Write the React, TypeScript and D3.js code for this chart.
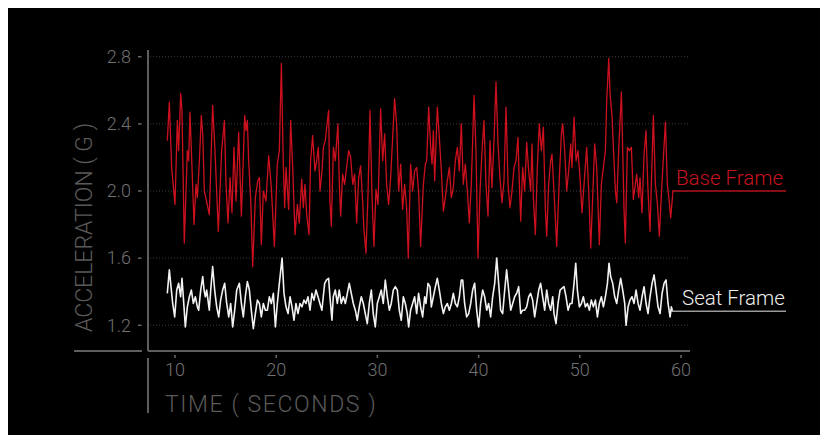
import React, { useEffect, useRef } from 'react';
import * as d3 from 'd3';

// Base frame (red), time in seconds / acceleration in G
const baseTime = [
  9.24, 9.44, 9.67, 10.0, 10.23, 10.36, 10.56, 10.69, 10.92, 11.22, 11.35, 11.48, 11.68, 11.88, 12.08, 12.21,
  12.41, 12.6, 12.74, 12.9, 13.39, 13.72, 13.95, 14.28, 14.61, 14.88, 15.04, 15.24, 15.44, 15.63, 15.83, 16.03,
  16.29, 16.56, 16.89, 17.02, 17.15, 17.28, 17.48, 17.68, 17.94, 18.17, 18.34, 18.53, 18.73, 18.99, 19.26, 19.52,
  19.82, 20.11, 20.31, 20.51, 20.71, 20.84, 20.97, 21.23, 21.43, 21.63, 21.86, 22.09, 22.28, 22.52, 22.68, 22.84,
  23.01, 23.24, 23.4, 23.6, 23.83, 24.0, 24.16, 24.33, 24.53, 24.66, 24.85, 24.99, 25.18, 25.31, 25.45, 25.65,
  25.84, 26.1, 26.24, 26.37, 26.56, 26.76, 26.96, 27.16, 27.36, 27.56, 27.75, 27.95, 28.15, 28.34, 28.54, 28.67,
  28.87, 29.07, 29.27, 29.46, 29.66, 29.86, 30.06, 30.32, 30.52, 30.72, 30.91, 31.11, 31.31, 31.7, 31.9, 32.1,
  32.3, 32.49, 32.69, 32.89, 33.05, 33.28, 33.48, 33.68, 33.88, 34.07, 34.27, 34.54, 34.74, 34.87, 35.07, 35.26,
  35.4, 35.53, 35.66, 35.92, 36.12, 36.32, 36.52, 36.71, 36.91, 37.11, 37.31, 37.5, 37.7, 37.9, 38.1, 38.29,
  38.49, 38.69, 38.89, 39.08, 39.28, 39.55, 39.74, 39.94, 40.14, 40.34, 40.53, 40.73, 40.93, 41.13, 41.32, 41.52,
  41.72, 41.92, 42.11, 42.31, 42.51, 42.71, 42.91, 43.1, 43.3, 43.5, 43.7, 43.89, 44.03, 44.16, 44.35, 44.55,
  44.75, 44.95, 45.14, 45.28, 45.41, 45.61, 45.8, 46.0, 46.2, 46.4, 46.59, 46.73, 46.92, 47.12, 47.25, 47.45,
  47.72, 47.98, 48.18, 48.31, 48.51, 48.7, 48.9, 49.1, 49.23, 49.43, 49.63, 49.82, 50.02, 50.22, 50.42, 50.68,
  50.88, 51.08, 51.27, 51.47, 51.67, 51.93, 52.13, 52.33, 52.53, 52.66, 52.86, 52.99, 53.19, 53.32, 53.52, 53.65,
  53.84, 54.11, 54.24, 54.37, 54.5, 54.7, 54.9, 55.1, 55.29, 55.49, 55.62, 55.82, 55.95, 56.15, 56.35, 56.54,
  56.74, 56.94, 57.07, 57.27, 57.47, 57.66, 57.86, 58.06, 58.26, 58.46, 58.65, 58.85, 58.98, 59.18,
];
const baseValue = [
  2.3, 2.53, 2.14, 1.92, 2.42, 2.24, 2.58, 2.48, 1.69, 2.24, 2.18, 2.47, 2.14, 1.8, 2.04, 1.96,
  2.18, 2.45, 2.34, 2.0, 1.86, 2.51, 2.24, 1.76, 2.24, 2.42, 2.04, 1.81, 2.08, 1.87, 2.26, 1.94,
  2.35, 1.85, 2.45, 2.36, 2.42, 2.18, 1.95, 1.55, 1.96, 2.06, 2.08, 1.68, 2.0, 1.94, 2.21, 2.02,
  1.67, 2.16, 2.24, 2.76, 2.14, 1.9, 2.14, 1.89, 2.42, 2.14, 1.74, 1.92, 1.81, 2.07, 1.9, 2.04,
  1.86, 1.74, 2.18, 2.33, 2.12, 2.18, 2.26, 2.0, 2.12, 2.26, 2.3, 2.38, 2.48, 1.94, 1.79, 2.26,
  2.18, 2.4, 2.04, 1.85, 2.1, 2.04, 2.14, 2.24, 2.2, 2.04, 2.1, 1.81, 2.08, 2.15, 1.94, 1.77,
  1.63, 1.98, 2.48, 1.98, 1.67, 2.01, 1.92, 2.49, 2.18, 2.34, 2.04, 1.92, 2.08, 2.55, 2.4, 2.0,
  2.16, 1.89, 2.04, 1.9, 1.6, 2.16, 2.0, 2.12, 2.14, 2.0, 1.67, 2.04, 2.16, 2.18, 2.5, 2.26,
  2.16, 2.36, 2.06, 2.5, 2.32, 2.12, 1.88, 1.96, 2.06, 2.14, 1.96, 2.02, 2.18, 2.26, 2.12, 2.4,
  2.04, 2.16, 2.0, 1.81, 2.04, 2.57, 2.24, 1.6, 2.0, 2.24, 2.42, 2.04, 1.85, 2.3, 2.02, 2.3,
  2.65, 2.28, 2.08, 1.93, 2.06, 2.5, 2.04, 1.9, 2.0, 2.14, 2.18, 2.32, 2.04, 1.82, 2.14, 2.0,
  2.29, 2.12, 2.0, 2.28, 1.96, 1.74, 2.14, 2.4, 2.24, 2.38, 1.9, 1.73, 2.04, 2.18, 2.22, 2.0,
  1.67, 2.08, 2.34, 2.4, 2.24, 2.0, 2.12, 2.28, 2.14, 2.44, 2.18, 2.24, 2.08, 1.87, 2.04, 2.26,
  2.0, 1.66, 1.96, 2.28, 2.14, 1.68, 2.04, 2.14, 2.24, 2.54, 2.79, 2.58, 2.44, 2.26, 2.0, 1.93,
  2.24, 2.59, 2.24, 1.89, 1.69, 2.26, 2.24, 2.26, 1.95, 2.04, 2.1, 1.96, 2.08, 1.87, 2.22, 2.36,
  2.0, 1.76, 2.04, 2.45, 2.04, 1.93, 1.73, 1.98, 2.2, 2.41, 2.04, 1.93, 1.84, 1.98,
];

// Seat frame (white)
const seatTime = [
  9.24, 9.44, 9.64, 9.77, 9.97, 10.17, 10.36, 10.56, 10.69, 10.89, 11.02, 11.22, 11.42, 11.62, 11.81, 12.01,
  12.21, 12.34, 12.54, 12.74, 12.87, 13.0, 13.13, 13.39, 13.53, 13.72, 13.92, 14.12, 14.32, 14.51, 14.71, 14.91,
  15.11, 15.31, 15.5, 15.7, 15.9, 16.1, 16.36, 16.56, 16.75, 16.95, 17.15, 17.35, 17.54, 17.74, 17.94, 18.14,
  18.34, 18.53, 18.73, 18.93, 19.13, 19.32, 19.52, 19.72, 19.92, 20.11, 20.31, 20.58, 20.77, 20.97, 21.17, 21.37,
  21.56, 21.76, 21.95, 22.15, 22.35, 22.55, 22.74, 22.94, 23.14, 23.34, 23.53, 23.73, 23.93, 24.13, 24.32, 24.52,
  24.65, 24.79, 24.98, 25.18, 25.31, 25.51, 25.64, 25.84, 26.04, 26.23, 26.43, 26.63, 26.83, 27.03, 27.22, 27.42,
  27.62, 27.82, 28.01, 28.21, 28.41, 28.61, 28.8, 29.0, 29.2, 29.4, 29.59, 29.79, 29.99, 30.19, 30.38, 30.58,
  30.78, 30.98, 31.18, 31.37, 31.57, 31.77, 31.97, 32.16, 32.36, 32.56, 32.76, 32.95, 33.09, 33.28, 33.48, 33.68,
  33.88, 34.07, 34.27, 34.47, 34.67, 34.8, 35.0, 35.2, 35.33, 35.53, 35.73, 35.92, 36.12, 36.32, 36.52, 36.71,
  36.91, 37.11, 37.31, 37.5, 37.7, 37.9, 38.1, 38.29, 38.43, 38.62, 38.82, 39.02, 39.22, 39.41, 39.61, 39.81,
  40.01, 40.2, 40.4, 40.6, 40.8, 40.99, 41.19, 41.39, 41.59, 41.79, 41.98, 42.18, 42.38, 42.58, 42.77, 42.97,
  43.17, 43.37, 43.56, 43.76, 43.96, 44.16, 44.35, 44.55, 44.75, 44.95, 45.14, 45.34, 45.54, 45.74, 45.94, 46.13,
  46.33, 46.53, 46.73, 46.92, 47.12, 47.32, 47.45, 47.65, 47.85, 48.05, 48.24, 48.44, 48.64, 48.84, 49.04, 49.23,
  49.43, 49.6, 49.76, 49.96, 50.16, 50.35, 50.55, 50.75, 50.95, 51.14, 51.34, 51.54, 51.74, 51.93, 52.13, 52.33,
  52.53, 52.73, 52.89, 53.05, 53.25, 53.45, 53.65, 53.84, 54.04, 54.24, 54.44, 54.57, 54.77, 54.96, 55.16, 55.36,
  55.56, 55.76, 55.95, 56.15, 56.35, 56.55, 56.74, 56.94, 57.14, 57.34, 57.53, 57.73, 57.93, 58.13, 58.33, 58.52,
  58.72, 58.92, 59.05, 59.18,
];
const seatValue = [
  1.39, 1.53, 1.41, 1.33, 1.25, 1.41, 1.45, 1.37, 1.48, 1.31, 1.19, 1.31, 1.37, 1.41, 1.33, 1.37,
  1.31, 1.29, 1.41, 1.49, 1.41, 1.37, 1.41, 1.29, 1.41, 1.55, 1.41, 1.31, 1.25, 1.35, 1.41, 1.45,
  1.33, 1.25, 1.33, 1.19, 1.29, 1.41, 1.45, 1.33, 1.25, 1.37, 1.46, 1.41, 1.29, 1.18, 1.27, 1.35,
  1.33, 1.25, 1.33, 1.29, 1.29, 1.37, 1.33, 1.39, 1.19, 1.33, 1.45, 1.6, 1.39, 1.31, 1.27, 1.37,
  1.31, 1.23, 1.33, 1.27, 1.33, 1.31, 1.35, 1.33, 1.37, 1.29, 1.39, 1.35, 1.41, 1.37, 1.33, 1.29,
  1.37, 1.45, 1.47, 1.48, 1.37, 1.23, 1.37, 1.41, 1.33, 1.41, 1.33, 1.37, 1.33, 1.39, 1.45, 1.39,
  1.33, 1.29, 1.23, 1.31, 1.37, 1.33, 1.27, 1.21, 1.33, 1.41, 1.27, 1.19, 1.33, 1.37, 1.41, 1.33,
  1.47, 1.37, 1.29, 1.33, 1.41, 1.43, 1.41, 1.29, 1.23, 1.37, 1.33, 1.27, 1.19, 1.29, 1.33, 1.37,
  1.27, 1.39, 1.31, 1.25, 1.37, 1.33, 1.45, 1.43, 1.31, 1.37, 1.43, 1.48, 1.41, 1.33, 1.27, 1.31,
  1.33, 1.29, 1.33, 1.39, 1.33, 1.31, 1.37, 1.47, 1.47, 1.33, 1.25, 1.27, 1.33, 1.41, 1.45, 1.29,
  1.19, 1.33, 1.41, 1.37, 1.29, 1.33, 1.25, 1.37, 1.45, 1.6, 1.45, 1.29, 1.27, 1.41, 1.53, 1.41,
  1.29, 1.33, 1.37, 1.39, 1.43, 1.27, 1.29, 1.29, 1.31, 1.37, 1.39, 1.35, 1.25, 1.33, 1.41, 1.45,
  1.37, 1.29, 1.41, 1.33, 1.29, 1.37, 1.27, 1.21, 1.33, 1.41, 1.42, 1.43, 1.37, 1.29, 1.33, 1.33,
  1.45, 1.57, 1.41, 1.31, 1.33, 1.37, 1.31, 1.33, 1.29, 1.35, 1.31, 1.35, 1.25, 1.33, 1.37, 1.31,
  1.37, 1.45, 1.57, 1.49, 1.45, 1.37, 1.33, 1.41, 1.48, 1.41, 1.33, 1.2, 1.31, 1.35, 1.37, 1.33,
  1.41, 1.33, 1.29, 1.37, 1.43, 1.33, 1.27, 1.37, 1.45, 1.5, 1.41, 1.31, 1.27, 1.39, 1.45, 1.47,
  1.33, 1.25, 1.31, 1.28,
];

const yTicks = [1.2, 1.6, 2.0, 2.4, 2.8];
const xTicks = [10, 20, 30, 40, 50, 60];
const baseLabel = 'Base Frame';
const seatLabel = 'Seat Frame';
const baseLevel = 2.0; // where the label leader sits
const seatLevel = 1.283;

const FONT = "Roboto, 'Liberation Sans', Arial, sans-serif";

const App = () => {
  const svgRef = useRef(null);

  useEffect(() => {
    const W = 812;
    const H = 427;
    const svg = d3.select(svgRef.current);
    svg.selectAll('*').remove();
    svg.attr('width', W).attr('height', H).style('display', 'block');

    svg.append('rect').attr('width', W).attr('height', H).attr('fill', '#000');

    // scales
    const x = d3.scaleLinear().domain([10, 60]).range([167, 673]);
    const y = d3.scaleLinear().domain([1.2, 2.8]).range([317.3, 48.7]);

    const axisX = 140;
    const axisY = 343;
    const plotRight = 682;

    // grid lines
    svg
      .append('g')
      .selectAll('line')
      .data(yTicks)
      .enter()
      .append('line')
      .attr('x1', axisX + 2)
      .attr('x2', plotRight)
      .attr('y1', (d) => y(d))
      .attr('y2', (d) => y(d))
      .attr('stroke', '#3c3c3c')
      .attr('stroke-width', 1)
      .attr('stroke-dasharray', '1,2');

    // axis lines
    const axisColor = '#5e5e5e';
    svg.append('line').attr('x1', axisX).attr('x2', axisX).attr('y1', 42).attr('y2', axisY)
      .attr('stroke', axisColor).attr('stroke-width', 2);
    svg.append('line').attr('x1', axisX).attr('x2', plotRight).attr('y1', axisY).attr('y2', axisY)
      .attr('stroke', axisColor).attr('stroke-width', 2);
    svg.append('line').attr('x1', 66).attr('x2', 134).attr('y1', axisY).attr('y2', axisY)
      .attr('stroke', axisColor).attr('stroke-width', 2);
    svg.append('line').attr('x1', axisX).attr('x2', axisX).attr('y1', 350).attr('y2', 405)
      .attr('stroke', axisColor).attr('stroke-width', 2);

    // y ticks
    const yt = svg.append('g').selectAll('g').data(yTicks).enter().append('g')
      .attr('transform', (d) => `translate(0,${y(d)})`);
    yt.append('line').attr('x1', 130).attr('x2', 133.5).attr('stroke', '#6a6a6a').attr('stroke-width', 1.5);
    yt.append('text')
      .attr('x', 123)
      .attr('dy', '0.35em')
      .attr('text-anchor', 'end')
      .attr('fill', '#727272')
      .attr('font-family', FONT)
      .attr('font-weight', 300)
      .attr('font-size', 18)
      .text((d) => d3.format('.1f')(d));

    // x ticks
    const xt = svg.append('g').selectAll('g').data(xTicks).enter().append('g')
      .attr('transform', (d) => `translate(${x(d)},0)`);
    xt.append('line').attr('y1', 347).attr('y2', 350).attr('stroke', '#6a6a6a').attr('stroke-width', 1.5);
    xt.append('text')
      .attr('y', 368)
      .attr('text-anchor', 'middle')
      .attr('fill', '#727272')
      .attr('font-family', FONT)
      .attr('font-weight', 300)
      .attr('font-size', 18)
      .text((d) => d);

    // axis titles
    svg.append('text')
      .attr('x', 157)
      .attr('y', 404)
      .attr('fill', '#5a5a5a')
      .attr('font-family', FONT)
      .attr('font-weight', 300)
      .attr('font-size', 23)
      .attr('letter-spacing', 1.6)
      .text('TIME ( SECONDS )');

    svg.append('text')
      .attr('transform', 'translate(84,324) rotate(-90)')
      .attr('fill', '#5a5a5a')
      .attr('font-family', FONT)
      .attr('font-weight', 300)
      .attr('font-size', 23)
      .text('ACCELERATION ( G )');

    const baseLine = d3.line<number>().x((d) => x(d)).y((d, i) => y(baseValue[i]));
    const seatLine = d3.line<number>().x((d) => x(d)).y((d, i) => y(seatValue[i]));

    // base frame
    svg.append('path')
      .datum(baseTime)
      .attr('fill', 'none')
      .attr('stroke', '#cc101e')
      .attr('stroke-width', 1.3)
      .attr('stroke-linejoin', 'round')
      .attr('d', baseLine);

    // seat frame
    svg.append('path')
      .datum(seatTime)
      .attr('fill', 'none')
      .attr('stroke', '#f2f2f2')
      .attr('stroke-width', 1.6)
      .attr('stroke-linejoin', 'round')
      .attr('d', seatLine);

    // leaders + labels
    const leaderEnd = 778;
    const bLastX = x(baseTime[baseTime.length - 1]);
    const bLastY = y(baseValue[baseValue.length - 1]);
    svg.append('path')
      .attr('d', `M${bLastX},${bLastY}V${y(baseLevel)}H${leaderEnd}`)
      .attr('fill', 'none')
      .attr('stroke', '#b3101c')
      .attr('stroke-width', 1.5);
    const sLastX = x(seatTime[seatTime.length - 1]);
    const sLastY = y(seatValue[seatValue.length - 1]);
    svg.append('path')
      .attr('d', `M${sLastX},${sLastY}V${y(seatLevel)}H${leaderEnd}`)
      .attr('fill', 'none')
      .attr('stroke', '#9a9a9a')
      .attr('stroke-width', 1.5);

    svg.append('text')
      .attr('x', 668)
      .attr('y', 177)
      .attr('fill', '#c8141f')
      .attr('font-family', FONT)
      .attr('font-weight', 300)
      .attr('font-size', 20.5)
      .text(baseLabel);
    svg.append('text')
      .attr('x', 674)
      .attr('y', 297)
      .attr('fill', '#eeeeee')
      .attr('font-family', FONT)
      .attr('font-weight', 300)
      .attr('font-size', 20.5)
      .text(seatLabel);
  }, []);

  return <svg ref={svgRef}></svg>;
};

export default App;
